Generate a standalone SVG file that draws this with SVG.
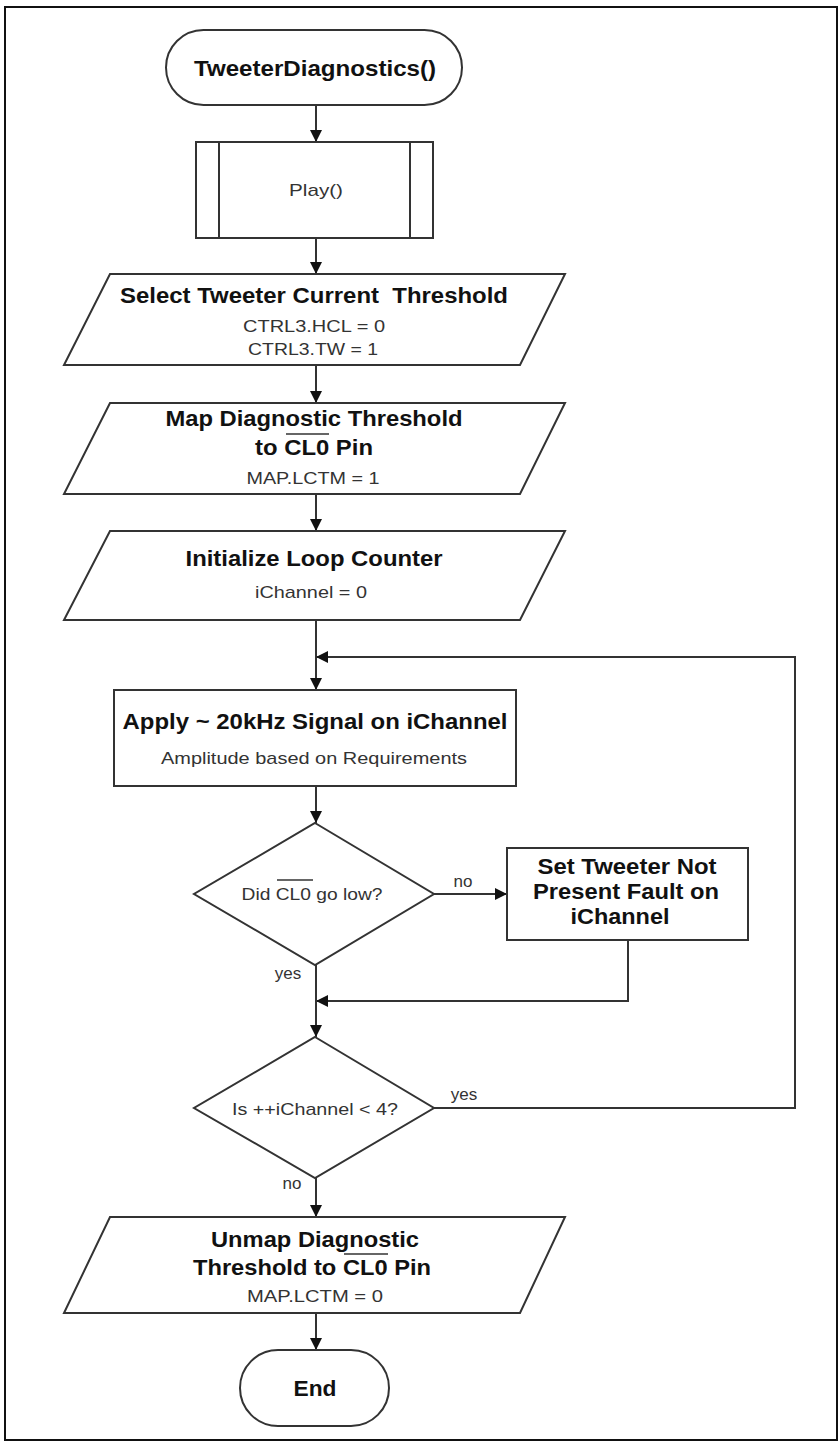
<svg xmlns="http://www.w3.org/2000/svg" width="840" height="1442" viewBox="0 0 840 1442">
<defs>
<marker id="ah" viewBox="0 0 12 12" refX="12" refY="6" markerWidth="12" markerHeight="12" markerUnits="userSpaceOnUse" orient="auto">
<path d="M0,0 L12,6 L0,12 Z" fill="#111"/>
</marker>
<style>
.shape{fill:#fff;stroke:#333;stroke-width:2}
.conn{fill:none;stroke:#333;stroke-width:2}
.b{font-family:"Liberation Sans",Arial,sans-serif;font-weight:bold;font-size:22px;fill:#111;text-anchor:middle}
.n{font-family:"Liberation Sans",Arial,sans-serif;font-size:17px;fill:#333;text-anchor:middle}
.lbl{font-family:"Liberation Sans",Arial,sans-serif;font-size:17px;fill:#333;text-anchor:middle}
.ol{stroke:#333;stroke-width:1.5}
</style>
</defs>
<rect x="5" y="7" width="832" height="1433" fill="#fff" stroke="#111" stroke-width="2"/>

<g id="connectors">
<line class="conn" x1="316" y1="105" x2="316" y2="142" marker-end="url(#ah)"/>
<line class="conn" x1="316" y1="238" x2="316" y2="274" marker-end="url(#ah)"/>
<line class="conn" x1="316" y1="365" x2="316" y2="403" marker-end="url(#ah)"/>
<line class="conn" x1="316" y1="494" x2="316" y2="531" marker-end="url(#ah)"/>
<line class="conn" x1="316" y1="620" x2="316" y2="690" marker-end="url(#ah)"/>
<line class="conn" x1="316" y1="786" x2="316" y2="823" marker-end="url(#ah)"/>
<line class="conn" x1="434" y1="894" x2="507" y2="894" marker-end="url(#ah)"/>
<polyline class="conn" points="628,940 628,1001 316,1001" marker-end="url(#ah)"/>
<line class="conn" x1="316" y1="965" x2="316" y2="1037" marker-end="url(#ah)"/>
<polyline class="conn" points="434,1108 795,1108 795,657 316,657" marker-end="url(#ah)"/>
<line class="conn" x1="316" y1="1178" x2="316" y2="1217" marker-end="url(#ah)"/>
<line class="conn" x1="316" y1="1313" x2="316" y2="1350" marker-end="url(#ah)"/>
<text class="lbl" x="463" y="887">no</text>
<text class="lbl" x="288" y="979">yes</text>
<text class="lbl" x="464" y="1100">yes</text>
<text class="lbl" x="292" y="1189">no</text>
</g>

<g id="start">
<rect class="shape" x="166" y="30" width="296" height="75" rx="37.5"/>
<text class="b" x="315" y="76" textLength="242" lengthAdjust="spacingAndGlyphs">TweeterDiagnostics()</text>
</g>

<g id="play">
<rect class="shape" x="196" y="142" width="237" height="96"/>
<line class="conn" x1="219" y1="142" x2="219" y2="238"/>
<line class="conn" x1="410" y1="142" x2="410" y2="238"/>
<text class="n" x="316" y="196" textLength="54" lengthAdjust="spacingAndGlyphs">Play()</text>
</g>

<g id="select-threshold">
<polygon class="shape" points="110,274 565,274 520,365 64,365"/>
<text class="b" x="314" y="303" textLength="388" lengthAdjust="spacingAndGlyphs" xml:space="preserve">Select Tweeter Current  Threshold</text>
<text class="n" x="314" y="332" textLength="142" lengthAdjust="spacingAndGlyphs">CTRL3.HCL = 0</text>
<text class="n" x="313" y="355" textLength="130" lengthAdjust="spacingAndGlyphs">CTRL3.TW = 1</text>
</g>

<g id="map-threshold">
<polygon class="shape" points="110,403 565,403 520,494 64,494"/>
<text class="b" x="314" y="426" textLength="297" lengthAdjust="spacingAndGlyphs">Map Diagnostic Threshold</text>
<text class="b" x="314" y="455" textLength="118" lengthAdjust="spacingAndGlyphs">to CL0 Pin</text>
<line class="ol" x1="286" y1="434" x2="329" y2="434"/>
<text class="n" x="313" y="484" textLength="133" lengthAdjust="spacingAndGlyphs">MAP.LCTM = 1</text>
</g>

<g id="init-counter">
<polygon class="shape" points="110,531 565,531 520,620 64,620"/>
<text class="b" x="314" y="566" textLength="257" lengthAdjust="spacingAndGlyphs">Initialize Loop Counter</text>
<text class="n" x="311" y="598" textLength="112" lengthAdjust="spacingAndGlyphs">iChannel = 0</text>
</g>

<g id="apply-signal">
<rect class="shape" x="114" y="690" width="402" height="96"/>
<text class="b" x="315" y="729" textLength="385" lengthAdjust="spacingAndGlyphs">Apply ~ 20kHz Signal on iChannel</text>
<text class="n" x="314" y="764" textLength="306" lengthAdjust="spacingAndGlyphs">Amplitude based on Requirements</text>
</g>

<g id="cl0-low">
<polygon class="shape" points="315,823 434,894 315,965 194,894"/>
<text class="n" x="312" y="900" textLength="141" lengthAdjust="spacingAndGlyphs">Did CL0 go low?</text>
<line class="ol" x1="277" y1="880" x2="313" y2="880"/>
</g>

<g id="set-fault">
<rect class="shape" x="507" y="848" width="241" height="92"/>
<text class="b" x="627" y="874" textLength="179" lengthAdjust="spacingAndGlyphs">Set Tweeter Not</text>
<text class="b" x="626" y="899" textLength="186" lengthAdjust="spacingAndGlyphs">Present Fault on</text>
<text class="b" x="620" y="924" textLength="99" lengthAdjust="spacingAndGlyphs">iChannel</text>
</g>

<g id="channel-check">
<polygon class="shape" points="315,1037 434,1108 315,1178 194,1108"/>
<text class="n" x="315" y="1115" textLength="166" lengthAdjust="spacingAndGlyphs">Is ++iChannel &lt; 4?</text>
</g>

<g id="unmap-threshold">
<polygon class="shape" points="110,1217 565,1217 520,1313 64,1313"/>
<text class="b" x="315" y="1247" textLength="208" lengthAdjust="spacingAndGlyphs">Unmap Diagnostic</text>
<text class="b" x="312" y="1275" textLength="238" lengthAdjust="spacingAndGlyphs">Threshold to CL0 Pin</text>
<line class="ol" x1="344" y1="1254" x2="388" y2="1254"/>
<text class="n" x="315" y="1302" textLength="136" lengthAdjust="spacingAndGlyphs">MAP.LCTM = 0</text>
</g>

<g id="end">
<rect class="shape" x="240" y="1350" width="149" height="76" rx="38"/>
<text class="b" x="315" y="1396" textLength="43" lengthAdjust="spacingAndGlyphs">End</text>
</g>
</svg>
